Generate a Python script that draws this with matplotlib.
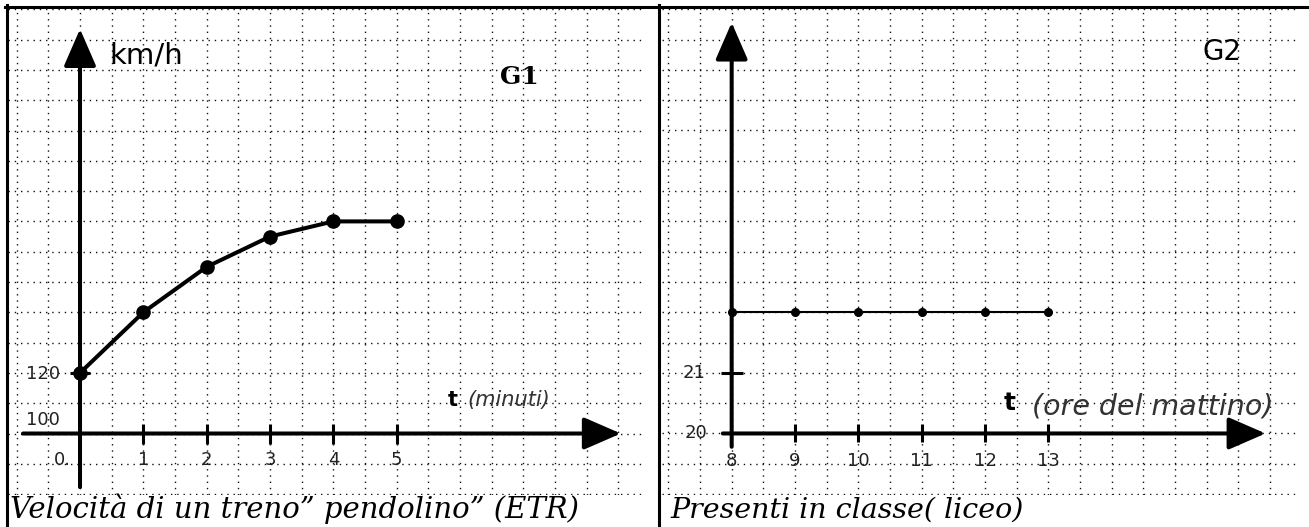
import numpy as np
import matplotlib.pyplot as plt
from matplotlib.lines import Line2D

# DATA:
# ==================================================================
# G1: velocita' del treno (km/h) contro il tempo (minuti)
minuti   = [0, 1, 2, 3, 4, 5]
velocita = [120, 140, 155, 165, 170, 170]
g1_xticks = [1, 2, 3, 4, 5]
g1_xlabels = ['1', '2', '3', '4', '5']

# G2: presenti in classe contro l'ora del mattino
ore      = [8, 9, 10, 11, 12, 13]
presenti = [22, 22, 22, 22, 22, 22]
g2_xticks = [9, 10, 11, 12, 13]
g2_xlabels = ['8', '9', '10', '11', '12', '13']
g2_ytick  = 21

cap1 = 'Velocità di un treno\u201d pendolino\u201d (ETR)'
cap2 = 'Presenti in classe( liceo)'

# FIGURE:
# ==================================================================
W, H = 1309, 527
fig = plt.figure(figsize=(W/100, H/100), dpi=100)

def box(x0, y0, x1, y1):
    return [x0/W, 1-y1/H, (x1-x0)/W, (y1-y0)/H]

GRID = dict(color='#111111', lw=1.0, ls=(0, (1, 3.5)), zorder=0)
ARR  = dict(color='k', lw=2.9, shrinkA=0, shrinkB=0, mutation_scale=20,
            arrowstyle='-|>,head_length=1.15,head_width=0.5')
TICK = dict(family='DejaVu Sans', size=13, color='#222222', ha='center', va='center')

# LEFT PANEL (G1):
# ==================================================================
ax1 = fig.add_axes(box(8, 8, 642, 494.5))
ax1.set_xlim(-1.137, 8.874)
ax1.set_ylim(79.87, 240.43)
ax1.axis('off')

for x in np.arange(-1, 9, 0.5):
    ax1.axvline(x, **GRID)
for y in np.arange(80, 241, 10):
    ax1.axhline(y, **GRID)

# axes with arrows
ax1.annotate('', xy=(0, 233.5), xytext=(0, 82.3), arrowprops=ARR)
ax1.annotate('', xy=(8.54, 100), xytext=(-0.9, 100), arrowprops=ARR)
ax1.plot(g1_xticks, [100]*len(g1_xticks), '|', color='k', ms=14, mew=2.2, zorder=3)
ax1.plot([0], [120], '_', color='k', ms=14, mew=2.2, zorder=3)

# data
ax1.plot(minuti, velocita, '-o', color='k', lw=2.9, ms=9.5, zorder=4)

for x, s in zip(g1_xticks, g1_xlabels):
    ax1.text(x, 91.3, s, **TICK)
ax1.text(-0.14, 91.3, '0.', **{**TICK, 'ha': 'right'})
ax1.text(-0.31, 119.5, '120', **{**TICK, 'ha': 'right'})
ax1.text(-0.31, 104.3, '100', **{**TICK, 'ha': 'right'})

ax1.text(0.47, 224.9, 'km/h', family='DejaVu Sans', size=21, ha='left', va='center')
ax1.text(6.93, 217.7, 'G1', family='DejaVu Serif', weight='bold', size=18,
         ha='center', va='center')
ax1.text(5.81, 111.0, 't', family='DejaVu Sans', weight='bold', size=15,
         ha='left', va='center')
ax1.text(6.12, 111.0, '(minuti)', family='DejaVu Sans', style='italic', size=15,
         color='#333333', ha='left', va='center')

# RIGHT PANEL (G2):
# ==================================================================
ax2 = fig.add_axes(box(662, 8, 1296, 494.5))
ax2.set_xlim(6.9, 16.91)
ax2.set_ylim(18.993, 27.02)
ax2.axis('off')

for x in np.arange(7, 17, 0.5):
    ax2.axvline(x, **GRID)
for y in np.arange(19, 27.01, 0.5):
    ax2.axhline(y, **GRID)

ax2.annotate('', xy=(8, 26.78), xytext=(8, 19.78), arrowprops=ARR)
ax2.annotate('', xy=(16.43, 20), xytext=(7.86, 20), arrowprops=ARR)
ax2.plot(g2_xticks, [20]*len(g2_xticks), '|', color='k', ms=13, mew=2.2, zorder=3)
ax2.plot([8], [g2_ytick], '_', color='k', ms=15.5, mew=2.2, zorder=3)

ax2.plot(ore, presenti, '-o', color='k', lw=1.5, ms=5.5, zorder=4)

for x, s in zip(ore, g2_xlabels):
    ax2.text(x, 19.55, s, **TICK)
ax2.text(7.41, 21, '21', **TICK)
ax2.text(7.43, 20.0, '20', **TICK)

ax2.text(15.43, 26.3, 'G2', family='DejaVu Sans', size=20, ha='left', va='center')
ax2.text(12.3, 20.5, 't', family='DejaVu Sans', weight='bold', size=18,
         ha='left', va='center')
ax2.text(12.74, 20.45, '(ore del mattino)', family='DejaVu Sans', style='italic',
         size=20.5, color='#333333', ha='left', va='center')

# FRAME AND CAPTIONS:
# ==================================================================
fl = dict(color='k', lw=2.2, transform=fig.transFigure)
fig.add_artist(Line2D([6.5/W, 6.5/W], [0, 1-5/H], **fl))
fig.add_artist(Line2D([5/W, 1], [1-6.5/H, 1-6.5/H], **fl))
fig.add_artist(Line2D([659/W, 659/W], [0, 1-5/H], **fl))

fig.text(10/W, 1-518/H, cap1, family='DejaVu Serif', style='italic', size=21,
         ha='left', va='baseline')
fig.text(670/W, 1-518/H, cap2, family='DejaVu Serif', style='italic', size=20.5,
         ha='left', va='baseline')

fig.savefig('out.png', dpi=100)
